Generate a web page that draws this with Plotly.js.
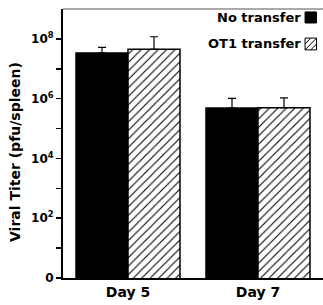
<!DOCTYPE html>
<html>
<head>
<meta charset="utf-8">
<script src="https://cdn.plot.ly/plotly-3.0.1.min.js"></script>
<style>html,body{margin:0;padding:0;background:#fff;}#chart{width:323px;height:305px;}</style>
</head>
<body>
<div id="chart"></div>
<script>
const categories = ["Day 5", "Day 7"];
const noTransfer = [3.4e7, 4.9e5];
const noTransferErr = [1.8e7, 5.3e5];
const ot1Transfer = [4.5e7, 5.0e5];
const ot1TransferErr = [7.3e7, 5.7e5];
const yTickVals = [1, 1e2, 1e4, 1e6, 1e8];
const yTickText = ["0", "10<sup>2</sup>", "10<sup>4</sup>", "10<sup>6</sup>", "10<sup>8</sup>"];
const yMinorTickVals = [10, 1e3, 1e5, 1e7];

const FONT = "DejaVu Sans";
const traces = [
  {
    type: "bar", name: "No transfer", x: categories, y: noTransfer,
    marker: {color: "#000", line: {color: "#000", width: 1.5}},
    error_y: {type: "data", array: noTransferErr, arrayminus: [0, 0], symmetric: false, color: "#000", thickness: 1.2, width: 4},
    showlegend: false
  },
  {
    type: "bar", name: "OT1 transfer", x: categories, y: ot1Transfer,
    marker: {color: "#fff", line: {color: "#000", width: 1.5},
      pattern: {shape: "/", fgcolor: "#000", bgcolor: "#fff", size: 6, solidity: 0.18}},
    error_y: {type: "data", array: ot1TransferErr, arrayminus: [0, 0], symmetric: false, color: "#000", thickness: 1.2, width: 4},
    showlegend: false
  }
];

const layout = {
  width: 323, height: 305,
  margin: {l: 63, r: 0, t: 9, b: 27},
  paper_bgcolor: "#fff", plot_bgcolor: "#fff",
  barmode: "group", bargap: 0.2, bargroupgap: 0,
  font: {family: FONT, color: "#000"},
  xaxis: {
    range: [-0.5, 1.5], showline: true, linecolor: "#000", linewidth: 2,
    ticks: "", showgrid: false, zeroline: false,
    tickfont: {family: FONT, size: 14, weight: "bold"}
  },
  yaxis: {
    type: "log", range: [0, 9], showline: true, linecolor: "#000", linewidth: 2,
    tickmode: "array", tickvals: yTickVals, ticktext: yTickText,
    ticks: "outside", ticklen: 5, tickwidth: 1.5, tickcolor: "#000",
    minor: {tickmode: "array", tickvals: yMinorTickVals, ticks: "outside", ticklen: 5, tickwidth: 1.5, tickcolor: "#000", showgrid: false},
    showgrid: false, zeroline: false,
    tickfont: {family: FONT, size: 12, weight: "bold"}
  },
  shapes: [
    {type: "line", xref: "paper", yref: "paper", x0: 0, x1: 1, y0: 1, y1: 1, line: {color: "#555", width: 1}},
    {type: "rect", xref: "paper", yref: "paper", x0: 0.931, x1: 0.975, y0: 0.948, y1: 0.989, fillcolor: "#000", line: {color: "#000", width: 1}},
    {type: "rect", xref: "paper", yref: "paper", x0: 0.931, x1: 0.975, y0: 0.848, y1: 0.892, fillcolor: "#fff", line: {color: "#000", width: 1}},
    {type: "line", xref: "paper", yref: "paper", x0: 0.931, x1: 0.975, y0: 0.848, y1: 0.892, line: {color: "#000", width: 1}},
    {type: "line", xref: "paper", yref: "paper", x0: 0.931, x1: 0.953, y0: 0.870, y1: 0.892, line: {color: "#000", width: 1}},
    {type: "line", xref: "paper", yref: "paper", x0: 0.953, x1: 0.975, y0: 0.848, y1: 0.870, line: {color: "#000", width: 1}}
  ],
  annotations: [
    {xref: "paper", yref: "paper", x: 0.922, y: 0.968, xanchor: "right", yanchor: "middle", showarrow: false,
     text: "No transfer", font: {family: FONT, size: 13, weight: "bold"}},
    {xref: "paper", yref: "paper", x: 0.922, y: 0.870, xanchor: "right", yanchor: "middle", showarrow: false,
     text: "OT1 transfer", font: {family: FONT, size: 13, weight: "bold"}},
    {xref: "paper", yref: "paper", x: -0.185, y: 0.468, xanchor: "center", yanchor: "middle", showarrow: false,
     textangle: -90, text: "Viral Titer (pfu/spleen)", font: {family: FONT, size: 14, weight: "bold"}}
  ]
};

Plotly.newPlot("chart", traces, layout, {displayModeBar: false, staticPlot: true});
</script>
</body>
</html>
